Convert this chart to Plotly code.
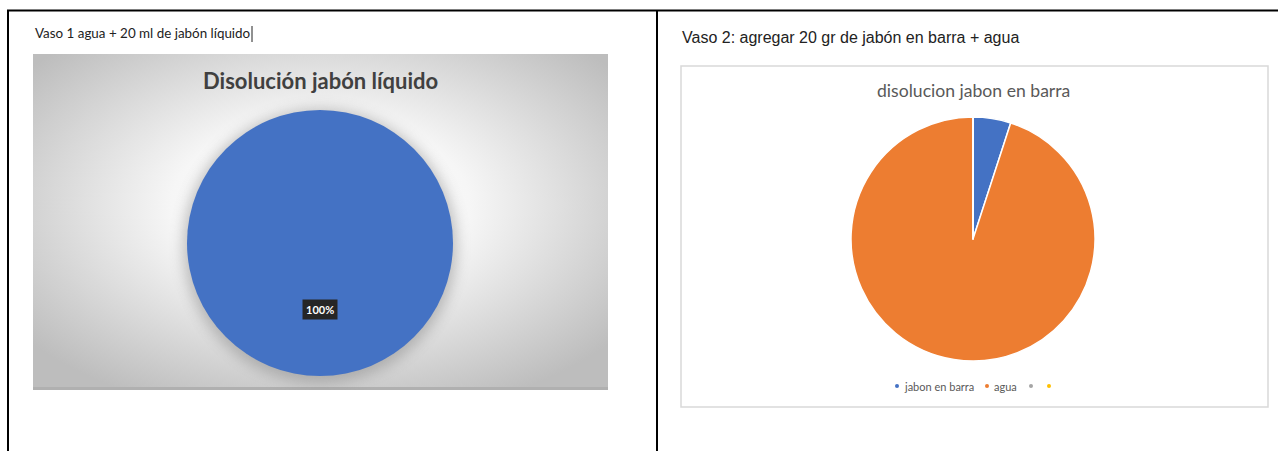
import base64
import plotly.graph_objects as go

W, H = 1278, 451

# ---- data ----
header_left = "Vaso 1 agua + 20 ml de jabón líquido"
header_right = "Vaso 2: agregar 20 gr de jabón en barra + agua"
title_left = "Disolución jabón líquido"
title_right = "disolucion jabon en barra"

left_labels = ["jabón líquido"]
left_values = [100]
left_colors = ["#4472C4"]

right_labels = ["jabon en barra", "agua", "", ""]
right_values = [5, 95, 0, 0]
right_colors = ["#4472C4", "#ED7D31", "#A5A5A5", "#FFC000"]


def px(x):
    return x / W


def py(y):
    return 1 - y / H


fig = go.Figure()

# left pie: center (320,243), r 133
fig.add_trace(go.Pie(
    labels=left_labels, values=left_values, sort=False, direction="clockwise",
    marker=dict(colors=left_colors, line=dict(color="#4472C4", width=0)),
    textinfo="none", hoverinfo="label+percent", showlegend=False,
    domain=dict(x=[px(187), px(453)], y=[py(376), py(110)]),
))

# right pie: center (973,239), r 122
fig.add_trace(go.Pie(
    labels=right_labels, values=right_values, sort=False, direction="clockwise",
    marker=dict(colors=right_colors, line=dict(color="white", width=1.5)),
    textinfo="none", hoverinfo="label+percent", showlegend=False,
    domain=dict(x=[px(851), px(1095)], y=[py(361), py(117)]),
))

# background gradient for left chart (with pie shadow)
cw, ch = 575, 336
svg = f'''<svg xmlns="http://www.w3.org/2000/svg" width="{cw}" height="{ch}" viewBox="0 0 {cw} {ch}" preserveAspectRatio="none">
<defs>
<radialGradient id="g" cx="50%" cy="45%" r="65%">
<stop offset="0%" stop-color="#ffffff"/>
<stop offset="40%" stop-color="#f6f6f6"/>
<stop offset="100%" stop-color="#bdbdbd"/>
</radialGradient>
<filter id="b" x="-30%" y="-30%" width="160%" height="160%"><feGaussianBlur stdDeviation="7"/></filter>
</defs>
<rect x="0" y="0" width="{cw}" height="{ch}" fill="url(#g)"/>
<rect x="0" y="{ch-3}" width="{cw}" height="3" fill="#b0b0b0"/>
<circle cx="{320-33}" cy="{243-54+3}" r="137" fill="#7a7a7a" opacity="0.45" filter="url(#b)"/>
</svg>'''
src = "data:image/svg+xml;base64," + base64.b64encode(svg.encode()).decode()

images = [dict(source=src, xref="paper", yref="paper", x=px(33), y=py(54),
               sizex=cw / W, sizey=ch / H, sizing="stretch", layer="below",
               xanchor="left", yanchor="top")]

shapes = [
    # table lines
    dict(type="line", xref="paper", yref="paper", x0=px(7), x1=px(1278), y0=py(10.5), y1=py(10.5),
         line=dict(color="black", width=2)),
    dict(type="line", xref="paper", yref="paper", x0=px(8), x1=px(8), y0=py(10), y1=py(451),
         line=dict(color="black", width=2)),
    dict(type="line", xref="paper", yref="paper", x0=px(657), x1=px(657), y0=py(10), y1=py(451),
         line=dict(color="black", width=2)),
    # right chart border
    dict(type="rect", xref="paper", yref="paper", x0=px(681), x1=px(1268), y0=py(407), y1=py(66),
         line=dict(color="#d9d9d9", width=1.5)),
    # text cursor
    dict(type="line", xref="paper", yref="paper", x0=px(252), x1=px(252), y0=py(26), y1=py(42),
         line=dict(color="#222", width=1)),
]

annotations = [
    dict(text=header_left, x=px(33), y=py(33), xref="paper", yref="paper", showarrow=False,
         xanchor="left", yanchor="middle", font=dict(family="Lato", size=13.4, color="#222")),
    dict(text=header_right, x=px(680), y=py(37), xref="paper", yref="paper", showarrow=False,
         xanchor="left", yanchor="middle", font=dict(family="Liberation Sans", size=16, color="#222")),
    dict(text="<b>" + title_left + "</b>", x=px(320), y=py(80), xref="paper", yref="paper",
         showarrow=False, xanchor="center", yanchor="middle",
         font=dict(family="Lato", size=22, color="#404040")),
    dict(text=title_right, x=px(973), y=py(90), xref="paper", yref="paper", showarrow=False,
         xanchor="center", yanchor="middle", font=dict(family="Lato", size=17.6, color="#595959")),
]

# data label for left pie
tot = sum(left_values)
annotations.append(dict(
    text="<b>%d%%</b>" % round(left_values[0] / tot * 100), x=px(320), y=py(309),
    xref="paper", yref="paper", showarrow=False, xanchor="center", yanchor="middle",
    bgcolor="#262626", borderpad=3, font=dict(family="Lato", size=11, color="white")))

# manual legend for right pie
dot_x = [897, 987, 1031, 1049]
ly = 386
for lab, col, dx in zip(right_labels, right_colors, dot_x):
    shapes.append(dict(type="circle", xref="paper", yref="paper",
                       x0=px(dx - 2), x1=px(dx + 2), y0=py(ly + 2), y1=py(ly - 2),
                       fillcolor=col, line=dict(width=0)))
    if lab:
        annotations.append(dict(text=lab, x=px(dx + 5), y=py(ly), xref="paper", yref="paper",
                                showarrow=False, xanchor="left", yanchor="middle",
                                font=dict(family="Lato", size=11, color="#595959")))

fig.update_layout(
    width=W, height=H, margin=dict(l=0, r=0, t=0, b=0),
    paper_bgcolor="white", plot_bgcolor="white",
    shapes=shapes, annotations=annotations, images=images,
    showlegend=False,
)

fig.write_html("out.html")
